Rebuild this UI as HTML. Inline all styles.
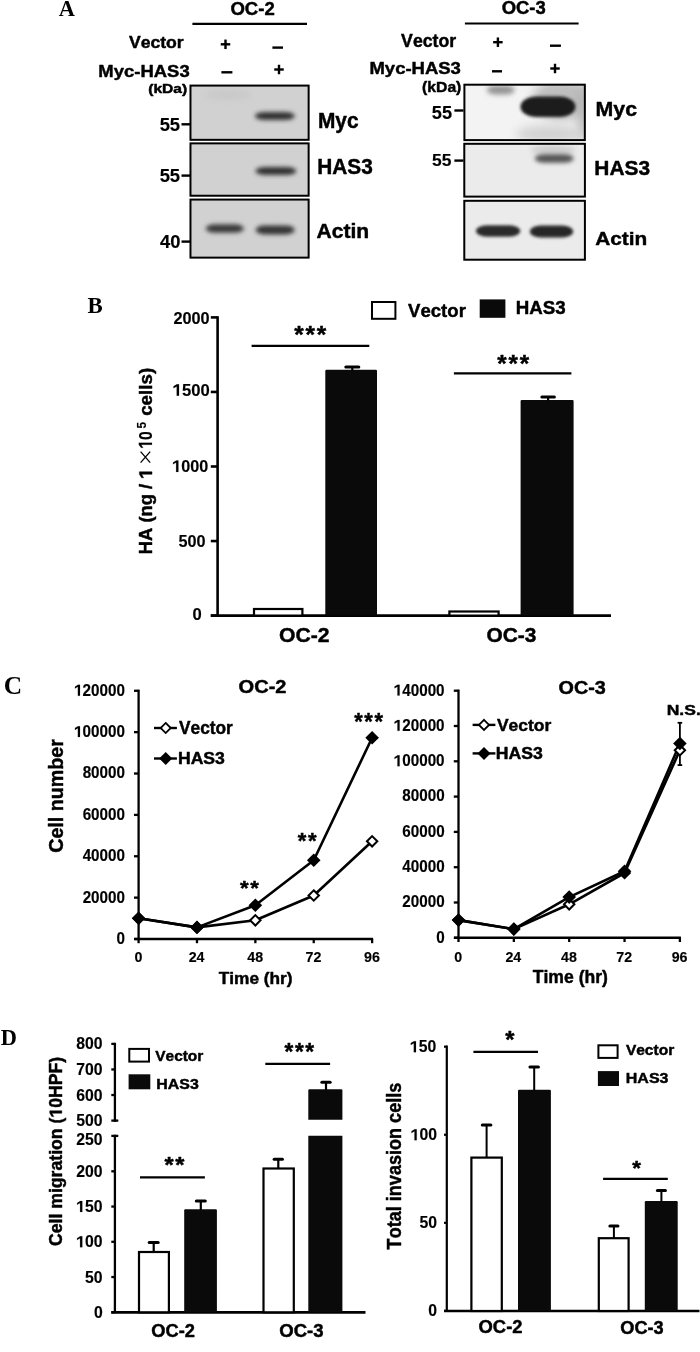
<!DOCTYPE html>
<html><head><meta charset="utf-8"><style>
html,body{margin:0;padding:0;background:#fff;}
body{width:700px;height:1352px;overflow:hidden;}
svg{display:block;filter:grayscale(1);}
text{font-kerning:none;stroke:#000;stroke-width:0.45px;stroke-linejoin:round;}
</style></head><body>
<svg width="700" height="1352" viewBox="0 0 700 1352">
<defs><filter id="b1" x="-30%" y="-100%" width="160%" height="300%"><feGaussianBlur stdDeviation="1.5"/></filter><filter id="b15" x="-30%" y="-100%" width="160%" height="300%"><feGaussianBlur stdDeviation="2"/></filter><filter id="b2" x="-30%" y="-100%" width="160%" height="300%"><feGaussianBlur stdDeviation="2.5"/></filter><filter id="b3" x="-50%" y="-100%" width="200%" height="300%"><feGaussianBlur stdDeviation="5"/></filter><clipPath id="clip1"><rect x="189.50" y="84.60" width="120.10" height="56.20"/></clipPath><clipPath id="clip2"><rect x="189.50" y="142.40" width="120.10" height="54.30"/></clipPath><clipPath id="clip3"><rect x="189.50" y="198.60" width="120.10" height="60.00"/></clipPath><clipPath id="clip4"><rect x="463.40" y="83.70" width="122.40" height="57.40"/></clipPath><clipPath id="clip5"><rect x="463.30" y="142.80" width="122.60" height="54.80"/></clipPath><clipPath id="clip6"><rect x="463.30" y="199.80" width="122.60" height="60.90"/></clipPath></defs>
<rect width="700" height="1352" fill="#fff"/>
<text transform="translate(58.68,15.70) scale(0.9797,1)" font-size="22.87" font-family='"Liberation Serif", serif' font-weight="bold" fill="#000" style="stroke:none">A</text>
<text transform="translate(230.44,14.82) scale(1.0022,1)" font-size="18.50" font-family='"Liberation Sans", sans-serif' font-weight="bold" fill="#000">OC-2</text>
<line x1="192.40" y1="23.90" x2="307.00" y2="23.90" stroke="#000" stroke-width="2.2" stroke-linecap="butt"/>
<text transform="translate(128.88,48.10) scale(1.0282,1)" font-size="17.15" font-family='"Liberation Sans", sans-serif' font-weight="bold" fill="#000">Vector</text>
<text transform="translate(98.37,76.70) scale(1.0742,1)" font-size="17.19" font-family='"Liberation Sans", sans-serif' font-weight="bold" fill="#000">Myc-HAS3</text>
<text transform="translate(148.22,93.01) scale(1.2000,1)" font-size="12.98" font-family='"Liberation Sans", sans-serif' font-weight="bold" fill="#000">(kDa)</text>
<line x1="220.75" y1="44.30" x2="230.25" y2="44.30" stroke="#000" stroke-width="2.4" stroke-linecap="butt"/>
<line x1="225.50" y1="39.55" x2="225.50" y2="49.05" stroke="#000" stroke-width="2.4" stroke-linecap="butt"/>
<line x1="272.40" y1="47.60" x2="283.00" y2="47.60" stroke="#000" stroke-width="2.4" stroke-linecap="butt"/>
<line x1="221.40" y1="72.30" x2="232.40" y2="72.30" stroke="#000" stroke-width="2.4" stroke-linecap="butt"/>
<line x1="274.25" y1="69.50" x2="283.75" y2="69.50" stroke="#000" stroke-width="2.4" stroke-linecap="butt"/>
<line x1="279.00" y1="64.75" x2="279.00" y2="74.25" stroke="#000" stroke-width="2.4" stroke-linecap="butt"/>
<text transform="translate(501.64,14.20) scale(1.0542,1)" font-size="17.48" font-family='"Liberation Sans", sans-serif' font-weight="bold" fill="#000">OC-3</text>
<line x1="464.90" y1="23.50" x2="578.60" y2="23.50" stroke="#000" stroke-width="2.1" stroke-linecap="butt"/>
<text transform="translate(401.08,46.50) scale(0.9982,1)" font-size="17.73" font-family='"Liberation Sans", sans-serif' font-weight="bold" fill="#000">Vector</text>
<text transform="translate(369.46,73.60) scale(1.0948,1)" font-size="16.90" font-family='"Liberation Sans", sans-serif' font-weight="bold" fill="#000">Myc-HAS3</text>
<text transform="translate(422.12,91.64) scale(1.0308,1)" font-size="15.23" font-family='"Liberation Sans", sans-serif' font-weight="bold" fill="#000">(kDa)</text>
<line x1="493.15" y1="42.20" x2="502.65" y2="42.20" stroke="#000" stroke-width="2.4" stroke-linecap="butt"/>
<line x1="497.90" y1="37.45" x2="497.90" y2="46.95" stroke="#000" stroke-width="2.4" stroke-linecap="butt"/>
<line x1="550.00" y1="45.70" x2="560.90" y2="45.70" stroke="#000" stroke-width="2.4" stroke-linecap="butt"/>
<line x1="492.00" y1="71.30" x2="502.00" y2="71.30" stroke="#000" stroke-width="2.4" stroke-linecap="butt"/>
<line x1="550.25" y1="68.50" x2="559.75" y2="68.50" stroke="#000" stroke-width="2.4" stroke-linecap="butt"/>
<line x1="555.00" y1="63.75" x2="555.00" y2="73.25" stroke="#000" stroke-width="2.4" stroke-linecap="butt"/>
<g clip-path="url(#clip1)">
<rect x="189.50" y="84.60" width="120.10" height="56.20" fill="#d1d1d1"/>
<ellipse cx="228.00" cy="95.00" rx="22.00" ry="5.00" fill="#c6c6c6" filter="url(#b2)" opacity="0.7"/>
<rect x="254.90" y="112.00" width="40.00" height="8.00" rx="10.00" ry="4.00" fill="#303030" filter="url(#b15)"/>
<rect x="191.50" y="86.60" width="116.10" height="52.20" fill="none" stroke="#fff" stroke-width="0.8" opacity="0.35"/>
</g>
<rect x="190.50" y="85.60" width="118.10" height="54.20" fill="none" stroke="#000" stroke-width="2.0"/>
<g clip-path="url(#clip2)">
<rect x="189.50" y="142.40" width="120.10" height="54.30" fill="#d1d1d1"/>
<rect x="255.40" y="167.00" width="41.00" height="8.00" rx="10.00" ry="4.00" fill="#323232" filter="url(#b15)"/>
<rect x="191.50" y="144.40" width="116.10" height="50.30" fill="none" stroke="#fff" stroke-width="0.8" opacity="0.35"/>
</g>
<rect x="190.50" y="143.40" width="118.10" height="52.30" fill="none" stroke="#000" stroke-width="2.0"/>
<g clip-path="url(#clip3)">
<rect x="189.50" y="198.60" width="120.10" height="60.00" fill="#d1d1d1"/>
<rect x="205.80" y="224.20" width="38.00" height="8.60" rx="9.00" ry="4.30" fill="#3a3a3a" filter="url(#b15)"/>
<rect x="255.70" y="225.40" width="39.00" height="9.00" rx="9.00" ry="4.50" fill="#343434" filter="url(#b15)"/>
<rect x="191.50" y="200.60" width="116.10" height="56.00" fill="none" stroke="#fff" stroke-width="0.8" opacity="0.35"/>
</g>
<rect x="190.50" y="199.60" width="118.10" height="58.00" fill="none" stroke="#000" stroke-width="2.0"/>
<g clip-path="url(#clip4)">
<rect x="463.40" y="83.70" width="122.40" height="57.40" fill="#f3f3f3"/>
<ellipse cx="562.00" cy="100.00" rx="30.00" ry="20.00" fill="#b8b8b8" filter="url(#b3)" opacity="0.9"/>
<ellipse cx="584.00" cy="112.00" rx="7.00" ry="30.00" fill="#b4b4b4" filter="url(#b3)" opacity="0.9"/>
<ellipse cx="550.00" cy="134.00" rx="34.00" ry="9.00" fill="#cfcfcf" filter="url(#b3)" opacity="0.9"/>
<rect x="486.80" y="85.50" width="28.00" height="9.00" rx="10.00" ry="4.50" fill="#939393" filter="url(#b2)"/>
<rect x="520.50" y="96.55" width="55.00" height="20.50" rx="16.00" ry="10.20" fill="#1c1c1c" filter="url(#b1)"/>
<rect x="465.40" y="85.70" width="118.40" height="53.40" fill="none" stroke="#fff" stroke-width="0.8" opacity="0.35"/>
</g>
<rect x="464.40" y="84.70" width="120.40" height="55.40" fill="none" stroke="#000" stroke-width="2.0"/>
<g clip-path="url(#clip5)">
<rect x="463.30" y="142.80" width="122.60" height="54.80" fill="#ebebeb"/>
<ellipse cx="553.00" cy="150.00" rx="22.00" ry="5.00" fill="#c8c8c8" filter="url(#b2)" opacity="0.8"/>
<rect x="534.70" y="154.30" width="39.00" height="8.40" rx="10.00" ry="4.20" fill="#545454" filter="url(#b15)"/>
<rect x="465.30" y="144.80" width="118.60" height="50.80" fill="none" stroke="#fff" stroke-width="0.8" opacity="0.35"/>
</g>
<rect x="464.30" y="143.80" width="120.60" height="52.80" fill="none" stroke="#000" stroke-width="2.0"/>
<g clip-path="url(#clip6)">
<rect x="463.30" y="199.80" width="122.60" height="60.90" fill="#ebebeb"/>
<rect x="475.85" y="225.30" width="44.50" height="11.40" rx="11.00" ry="5.70" fill="#2c2c2c" filter="url(#b1)"/>
<rect x="529.75" y="225.40" width="43.50" height="12.00" rx="11.00" ry="6.00" fill="#262626" filter="url(#b1)"/>
<rect x="465.30" y="201.80" width="118.60" height="56.90" fill="none" stroke="#fff" stroke-width="0.8" opacity="0.35"/>
</g>
<rect x="464.30" y="200.80" width="120.60" height="58.90" fill="none" stroke="#000" stroke-width="2.0"/>
<text transform="translate(159.63,130.52) scale(1.0196,1)" font-size="18.06" font-family='"Liberation Sans", sans-serif' font-weight="bold" fill="#000" style="stroke-width:0.15px">55</text>
<line x1="181.50" y1="124.30" x2="190.00" y2="124.30" stroke="#000" stroke-width="2.4" stroke-linecap="butt"/>
<text transform="translate(159.63,181.62) scale(1.0196,1)" font-size="18.06" font-family='"Liberation Sans", sans-serif' font-weight="bold" fill="#000" style="stroke-width:0.15px">55</text>
<line x1="181.50" y1="175.60" x2="190.00" y2="175.60" stroke="#000" stroke-width="2.4" stroke-linecap="butt"/>
<text transform="translate(159.92,248.03) scale(1.0321,1)" font-size="17.80" font-family='"Liberation Sans", sans-serif' font-weight="bold" fill="#000" style="stroke-width:0.15px">40</text>
<line x1="181.50" y1="241.60" x2="190.00" y2="241.60" stroke="#000" stroke-width="2.4" stroke-linecap="butt"/>
<text transform="translate(317.90,128.30) scale(0.9770,1)" font-size="21.37" font-family='"Liberation Sans", sans-serif' font-weight="bold" fill="#000">Myc</text>
<text transform="translate(317.21,173.60) scale(0.9693,1)" font-size="21.48" font-family='"Liberation Sans", sans-serif' font-weight="bold" fill="#000">HAS3</text>
<text transform="translate(316.47,237.90) scale(1.0688,1)" font-size="19.73" font-family='"Liberation Sans", sans-serif' font-weight="bold" fill="#000">Actin</text>
<text transform="translate(431.84,119.12) scale(0.9933,1)" font-size="18.34" font-family='"Liberation Sans", sans-serif' font-weight="bold" fill="#000" style="stroke-width:0.15px">55</text>
<line x1="454.40" y1="110.50" x2="463.50" y2="110.50" stroke="#000" stroke-width="2.4" stroke-linecap="butt"/>
<text transform="translate(432.06,166.33) scale(1.0326,1)" font-size="16.91" font-family='"Liberation Sans", sans-serif' font-weight="bold" fill="#000" style="stroke-width:0.15px">55</text>
<line x1="454.40" y1="160.60" x2="463.50" y2="160.60" stroke="#000" stroke-width="2.4" stroke-linecap="butt"/>
<text transform="translate(595.57,115.70) scale(1.0251,1)" font-size="20.79" font-family='"Liberation Sans", sans-serif' font-weight="bold" fill="#000">Myc</text>
<text transform="translate(594.30,175.00) scale(1.0206,1)" font-size="20.48" font-family='"Liberation Sans", sans-serif' font-weight="bold" fill="#000">HAS3</text>
<text transform="translate(595.18,244.60) scale(1.0866,1)" font-size="19.18" font-family='"Liberation Sans", sans-serif' font-weight="bold" fill="#000">Actin</text>
<text transform="translate(87.62,312.83) scale(0.9495,1)" font-size="24.02" font-family='"Liberation Serif", serif' font-weight="bold" fill="#000" style="stroke:none">B</text>
<line x1="217.60" y1="316.20" x2="217.60" y2="615.60" stroke="#000" stroke-width="2.6" stroke-linecap="butt"/>
<line x1="210.80" y1="615.60" x2="217.60" y2="615.60" stroke="#000" stroke-width="2.6" stroke-linecap="butt"/>
<line x1="210.80" y1="541.05" x2="217.60" y2="541.05" stroke="#000" stroke-width="2.6" stroke-linecap="butt"/>
<line x1="210.80" y1="466.50" x2="217.60" y2="466.50" stroke="#000" stroke-width="2.6" stroke-linecap="butt"/>
<line x1="210.80" y1="391.95" x2="217.60" y2="391.95" stroke="#000" stroke-width="2.6" stroke-linecap="butt"/>
<line x1="210.80" y1="317.40" x2="217.60" y2="317.40" stroke="#000" stroke-width="2.6" stroke-linecap="butt"/>
<text transform="translate(173.44,323.74) scale(1.0027,1)" font-size="16.24" font-family='"Liberation Sans", sans-serif' font-weight="bold" fill="#000" style="stroke-width:0.15px">2000</text>
<g transform="translate(172.65,395.74) scale(1.0073,1)"><text font-size="16.53" font-family='"Liberation Sans", sans-serif' font-weight="bold" fill="#000" style="stroke-width:0.15px"> 500</text><path d="M4.034,0.000 L4.034,-9.279 L0.888,-7.544 L0.888,-9.400 L4.156,-11.369 L6.334,-11.369 L6.334,0.000 Z" fill="#000" stroke="#000" stroke-width="0.15" stroke-linejoin="round"/></g>
<g transform="translate(172.18,471.94) scale(0.9733,1)"><text font-size="16.67" font-family='"Liberation Sans", sans-serif' font-weight="bold" fill="#000" style="stroke-width:0.15px"> 000</text><path d="M4.069,0.000 L4.069,-9.359 L0.895,-7.609 L0.895,-9.481 L4.191,-11.466 L6.388,-11.466 L6.388,0.000 Z" fill="#000" stroke="#000" stroke-width="0.15" stroke-linejoin="round"/></g>
<text transform="translate(178.40,546.93) scale(0.9414,1)" font-size="17.23" font-family='"Liberation Sans", sans-serif' font-weight="bold" fill="#000" style="stroke-width:0.15px">500</text>
<text transform="translate(192.44,619.74) scale(0.9883,1)" font-size="16.81" font-family='"Liberation Sans", sans-serif' font-weight="bold" fill="#000" style="stroke-width:0.15px">0</text>
<line x1="210.80" y1="615.60" x2="611.00" y2="615.60" stroke="#000" stroke-width="2.6" stroke-linecap="butt"/>
<rect x="254.00" y="609.00" width="48.40" height="6.60" fill="#fff" stroke="#000" stroke-width="2.2"/>
<path d="M325.30,615.60 V371.00 Q325.30,369.80 326.50,369.80 H375.80 Q377.00,369.80 377.00,371.00 V615.60 Z" fill="#0a0a0c"/>
<line x1="352.30" y1="367.00" x2="352.30" y2="370.50" stroke="#000" stroke-width="2.2" stroke-linecap="butt"/>
<line x1="345.80" y1="367.00" x2="358.80" y2="367.00" stroke="#000" stroke-width="3.0" stroke-linecap="round"/>
<rect x="449.40" y="611.50" width="49.20" height="4.10" fill="#fff" stroke="#000" stroke-width="2.2"/>
<path d="M520.60,615.60 V401.10 Q520.60,399.90 521.80,399.90 H572.40 Q573.60,399.90 573.60,401.10 V615.60 Z" fill="#0a0a0c"/>
<line x1="548.10" y1="397.10" x2="548.10" y2="400.50" stroke="#000" stroke-width="2.2" stroke-linecap="butt"/>
<line x1="541.85" y1="397.10" x2="554.35" y2="397.10" stroke="#000" stroke-width="3.0" stroke-linecap="round"/>
<line x1="251.60" y1="345.80" x2="369.30" y2="345.80" stroke="#000" stroke-width="2.2" stroke-linecap="butt"/>
<line x1="453.90" y1="373.40" x2="571.40" y2="373.40" stroke="#000" stroke-width="2.2" stroke-linecap="butt"/>
<text transform="translate(294.33,343.34) scale(1.0068,1)" font-size="24.19" font-family='"Liberation Sans", sans-serif' font-weight="bold" fill="#000">*</text><text transform="translate(305.59,343.34) scale(1.0068,1)" font-size="24.19" font-family='"Liberation Sans", sans-serif' font-weight="bold" fill="#000">*</text><text transform="translate(316.85,343.34) scale(1.0068,1)" font-size="24.19" font-family='"Liberation Sans", sans-serif' font-weight="bold" fill="#000">*</text>
<text transform="translate(497.33,371.90) scale(1.0437,1)" font-size="23.11" font-family='"Liberation Sans", sans-serif' font-weight="bold" fill="#000">*</text><text transform="translate(508.48,371.90) scale(1.0437,1)" font-size="23.11" font-family='"Liberation Sans", sans-serif' font-weight="bold" fill="#000">*</text><text transform="translate(519.64,371.90) scale(1.0437,1)" font-size="23.11" font-family='"Liberation Sans", sans-serif' font-weight="bold" fill="#000">*</text>
<text transform="translate(279.03,642.40) scale(1.0183,1)" font-size="20.76" font-family='"Liberation Sans", sans-serif' font-weight="bold" fill="#000">OC-2</text>
<text transform="translate(486.54,642.37) scale(1.0152,1)" font-size="20.58" font-family='"Liberation Sans", sans-serif' font-weight="bold" fill="#000">OC-3</text>
<rect x="372.00" y="302.00" width="23.40" height="16.80" fill="#fff" stroke="#000" stroke-width="2"/>
<text transform="translate(408.07,317.00) scale(0.9906,1)" font-size="18.75" font-family='"Liberation Sans", sans-serif' font-weight="bold" fill="#000">Vector</text>
<rect x="479.70" y="299.40" width="25.70" height="18.40" fill="#0a0a0c"/>
<text transform="translate(515.85,314.20) scale(1.0372,1)" font-size="18.05" font-family='"Liberation Sans", sans-serif' font-weight="bold" fill="#000">HAS3</text>
<g transform="translate(152.00,554.13) rotate(-90) scale(0.9986,1)"><text font-size="18.35" font-family='"Liberation Sans", sans-serif' font-weight="bold" fill="#000" style="stroke-width:0.45px">HA (ng /  </text><path d="M79.925,0.000 L79.925,-10.307 L76.430,-8.380 L76.430,-10.441 L80.060,-12.628 L82.480,-12.628 L82.480,0.000 Z" fill="#000" stroke="#000" stroke-width="0.45" stroke-linejoin="round"/></g>
<path d="M140.6,451.6 L150.2,462.6 M150.2,451.6 L140.6,462.6" stroke="#000" stroke-width="1.3" fill="none"/>
<g transform="translate(152.00,448.69) rotate(-90) scale(0.8217,1)"><text font-size="19.19" font-family='"Liberation Sans", sans-serif' font-weight="bold" fill="#000" style="stroke-width:0.15px"> 0</text><path d="M4.685,0.000 L4.685,-10.776 L1.031,-8.762 L1.031,-10.917 L4.826,-13.203 L7.356,-13.203 L7.356,0.000 Z" fill="#000" stroke="#000" stroke-width="0.15" stroke-linejoin="round"/></g>
<text transform="translate(145.90,428.46) rotate(-90) scale(0.9598,1)" font-size="12.35" font-family='"Liberation Sans", sans-serif' font-weight="bold" fill="#000" style="stroke-width:0.15px">5</text>
<text transform="translate(152.06,415.83) rotate(-90) scale(0.9900,1)" font-size="18.99" font-family='"Liberation Sans", sans-serif' font-weight="bold" fill="#000">cells)</text>
<text transform="translate(3.86,693.76) scale(1.0428,1)" font-size="24.41" font-family='"Liberation Serif", serif' font-weight="bold" fill="#000" style="stroke:none">C</text>
<line x1="138.60" y1="689.68" x2="138.60" y2="939.00" stroke="#000" stroke-width="2.3" stroke-linecap="butt"/>
<line x1="134.00" y1="939.00" x2="138.60" y2="939.00" stroke="#000" stroke-width="2.3" stroke-linecap="butt"/>
<text transform="translate(116.55,943.94) scale(0.9650,1)" font-size="15.80" font-family='"Liberation Sans", sans-serif' font-weight="bold" fill="#000" style="stroke-width:0.15px">0</text>
<line x1="134.00" y1="897.63" x2="138.60" y2="897.63" stroke="#000" stroke-width="2.3" stroke-linecap="butt"/>
<text transform="translate(82.63,902.57) scale(0.9650,1)" font-size="15.80" font-family='"Liberation Sans", sans-serif' font-weight="bold" fill="#000" style="stroke-width:0.15px">20000</text>
<line x1="134.00" y1="856.26" x2="138.60" y2="856.26" stroke="#000" stroke-width="2.3" stroke-linecap="butt"/>
<text transform="translate(82.63,861.20) scale(0.9650,1)" font-size="15.80" font-family='"Liberation Sans", sans-serif' font-weight="bold" fill="#000" style="stroke-width:0.15px">40000</text>
<line x1="134.00" y1="814.89" x2="138.60" y2="814.89" stroke="#000" stroke-width="2.3" stroke-linecap="butt"/>
<text transform="translate(82.63,819.83) scale(0.9650,1)" font-size="15.80" font-family='"Liberation Sans", sans-serif' font-weight="bold" fill="#000" style="stroke-width:0.15px">60000</text>
<line x1="134.00" y1="773.52" x2="138.60" y2="773.52" stroke="#000" stroke-width="2.3" stroke-linecap="butt"/>
<text transform="translate(82.63,778.46) scale(0.9650,1)" font-size="15.80" font-family='"Liberation Sans", sans-serif' font-weight="bold" fill="#000" style="stroke-width:0.15px">80000</text>
<line x1="134.00" y1="732.15" x2="138.60" y2="732.15" stroke="#000" stroke-width="2.3" stroke-linecap="butt"/>
<g transform="translate(74.15,737.09) scale(0.9650,1)"><text font-size="15.80" font-family='"Liberation Sans", sans-serif' font-weight="bold" fill="#000" style="stroke-width:0.15px"> 00000</text><path d="M3.857,0.000 L3.857,-8.872 L0.849,-7.213 L0.849,-8.988 L3.973,-10.870 L6.056,-10.870 L6.056,0.000 Z" fill="#000" stroke="#000" stroke-width="0.15" stroke-linejoin="round"/></g>
<line x1="134.00" y1="690.78" x2="138.60" y2="690.78" stroke="#000" stroke-width="2.3" stroke-linecap="butt"/>
<g transform="translate(74.15,695.72) scale(0.9650,1)"><text font-size="15.80" font-family='"Liberation Sans", sans-serif' font-weight="bold" fill="#000" style="stroke-width:0.15px"> 20000</text><path d="M3.857,0.000 L3.857,-8.872 L0.849,-7.213 L0.849,-8.988 L3.973,-10.870 L6.056,-10.870 L6.056,0.000 Z" fill="#000" stroke="#000" stroke-width="0.15" stroke-linejoin="round"/></g>
<line x1="134.30" y1="939.00" x2="373.12" y2="939.00" stroke="#000" stroke-width="2.6" stroke-linecap="butt"/>
<line x1="138.60" y1="939.00" x2="138.60" y2="943.20" stroke="#000" stroke-width="2.3" stroke-linecap="butt"/>
<text transform="translate(134.45,961.80) scale(0.9500,1)" font-size="15.00" font-family='"Liberation Sans", sans-serif' font-weight="bold" fill="#000" style="stroke-width:0.15px">0</text>
<line x1="196.98" y1="939.00" x2="196.98" y2="943.20" stroke="#000" stroke-width="2.3" stroke-linecap="butt"/>
<text transform="translate(188.65,961.80) scale(0.9500,1)" font-size="15.00" font-family='"Liberation Sans", sans-serif' font-weight="bold" fill="#000" style="stroke-width:0.15px">24</text>
<line x1="255.36" y1="939.00" x2="255.36" y2="943.20" stroke="#000" stroke-width="2.3" stroke-linecap="butt"/>
<text transform="translate(247.35,961.80) scale(0.9500,1)" font-size="15.00" font-family='"Liberation Sans", sans-serif' font-weight="bold" fill="#000" style="stroke-width:0.15px">48</text>
<line x1="313.74" y1="939.00" x2="313.74" y2="943.20" stroke="#000" stroke-width="2.3" stroke-linecap="butt"/>
<text transform="translate(305.59,961.80) scale(0.9500,1)" font-size="15.00" font-family='"Liberation Sans", sans-serif' font-weight="bold" fill="#000" style="stroke-width:0.15px">72</text>
<line x1="372.12" y1="939.00" x2="372.12" y2="943.20" stroke="#000" stroke-width="2.3" stroke-linecap="butt"/>
<text transform="translate(364.01,961.80) scale(0.9500,1)" font-size="15.00" font-family='"Liberation Sans", sans-serif' font-weight="bold" fill="#000" style="stroke-width:0.15px">96</text>
<text transform="translate(218.71,984.30) scale(1.0419,1)" font-size="16.57" font-family='"Liberation Sans", sans-serif' font-weight="bold" fill="#000">Time (hr)</text>
<text transform="translate(63.11,852.81) rotate(-90) scale(0.9906,1)" font-size="19.88" font-family='"Liberation Sans", sans-serif' font-weight="bold" fill="#000">Cell number</text>
<text transform="translate(238.58,692.72) scale(1.1010,1)" font-size="18.22" font-family='"Liberation Sans", sans-serif' font-weight="bold" fill="#000">OC-2</text>
<path d="M138.60,918.30 L196.98,927.40 L255.36,920.30 L313.74,895.50 L372.12,841.30" fill="none" stroke="#000" stroke-width="2.6" stroke-linejoin="round"/>
<path d="M138.60,918.30 L196.98,927.40 L255.36,905.20 L313.74,860.30 L372.12,737.70" fill="none" stroke="#000" stroke-width="2.6" stroke-linejoin="round"/>
<path d="M138.60,913.10 L143.80,918.30 L138.60,923.50 L133.40,918.30 Z" fill="#fff" stroke="#000" stroke-width="2.0" stroke-linejoin="miter"/>
<path d="M196.98,922.20 L202.18,927.40 L196.98,932.60 L191.78,927.40 Z" fill="#fff" stroke="#000" stroke-width="2.0" stroke-linejoin="miter"/>
<path d="M255.36,915.10 L260.56,920.30 L255.36,925.50 L250.16,920.30 Z" fill="#fff" stroke="#000" stroke-width="2.0" stroke-linejoin="miter"/>
<path d="M313.74,890.30 L318.94,895.50 L313.74,900.70 L308.54,895.50 Z" fill="#fff" stroke="#000" stroke-width="2.0" stroke-linejoin="miter"/>
<path d="M372.12,836.10 L377.32,841.30 L372.12,846.50 L366.92,841.30 Z" fill="#fff" stroke="#000" stroke-width="2.0" stroke-linejoin="miter"/>
<path d="M138.60,911.50 L145.40,918.30 L138.60,925.10 L131.80,918.30 Z" fill="#000"/>
<path d="M196.98,920.60 L203.78,927.40 L196.98,934.20 L190.18,927.40 Z" fill="#000"/>
<path d="M255.36,898.40 L262.16,905.20 L255.36,912.00 L248.56,905.20 Z" fill="#000"/>
<path d="M313.74,853.50 L320.54,860.30 L313.74,867.10 L306.94,860.30 Z" fill="#000"/>
<path d="M372.12,730.90 L378.92,737.70 L372.12,744.50 L365.32,737.70 Z" fill="#000"/>
<line x1="154.00" y1="728.00" x2="176.90" y2="728.00" stroke="#000" stroke-width="2.4" stroke-linecap="butt"/>
<path d="M165.70,722.96 L170.74,728.00 L165.70,733.04 L160.66,728.00 Z" fill="#fff" stroke="#000" stroke-width="1.8" stroke-linejoin="miter"/>
<text transform="translate(178.98,733.70) scale(0.9925,1)" font-size="17.44" font-family='"Liberation Sans", sans-serif' font-weight="bold" fill="#000">Vector</text>
<line x1="154.00" y1="758.50" x2="176.90" y2="758.50" stroke="#000" stroke-width="2.4" stroke-linecap="butt"/>
<path d="M165.70,752.00 L172.20,758.50 L165.70,765.00 L159.20,758.50 Z" fill="#000"/>
<text transform="translate(177.92,764.00) scale(1.1087,1)" font-size="15.90" font-family='"Liberation Sans", sans-serif' font-weight="bold" fill="#000">HAS3</text>
<text transform="translate(239.94,894.62) scale(1.0581,1)" font-size="20.96" font-family='"Liberation Sans", sans-serif' font-weight="bold" fill="#000">*</text><text transform="translate(250.19,894.62) scale(1.0581,1)" font-size="20.96" font-family='"Liberation Sans", sans-serif' font-weight="bold" fill="#000">*</text>
<text transform="translate(297.84,848.43) scale(0.9773,1)" font-size="22.58" font-family='"Liberation Sans", sans-serif' font-weight="bold" fill="#000">*</text><text transform="translate(308.04,848.43) scale(0.9773,1)" font-size="22.58" font-family='"Liberation Sans", sans-serif' font-weight="bold" fill="#000">*</text>
<text transform="translate(354.24,730.20) scale(0.9446,1)" font-size="23.11" font-family='"Liberation Sans", sans-serif' font-weight="bold" fill="#000">*</text><text transform="translate(364.33,730.20) scale(0.9446,1)" font-size="23.11" font-family='"Liberation Sans", sans-serif' font-weight="bold" fill="#000">*</text><text transform="translate(374.42,730.20) scale(0.9446,1)" font-size="23.11" font-family='"Liberation Sans", sans-serif' font-weight="bold" fill="#000">*</text>
<line x1="458.50" y1="689.60" x2="458.50" y2="937.80" stroke="#000" stroke-width="2.3" stroke-linecap="butt"/>
<line x1="453.80" y1="937.80" x2="458.50" y2="937.80" stroke="#000" stroke-width="2.3" stroke-linecap="butt"/>
<text transform="translate(436.15,942.64) scale(0.9650,1)" font-size="15.80" font-family='"Liberation Sans", sans-serif' font-weight="bold" fill="#000" style="stroke-width:0.15px">0</text>
<line x1="453.80" y1="902.50" x2="458.50" y2="902.50" stroke="#000" stroke-width="2.3" stroke-linecap="butt"/>
<text transform="translate(402.23,907.34) scale(0.9650,1)" font-size="15.80" font-family='"Liberation Sans", sans-serif' font-weight="bold" fill="#000" style="stroke-width:0.15px">20000</text>
<line x1="453.80" y1="867.20" x2="458.50" y2="867.20" stroke="#000" stroke-width="2.3" stroke-linecap="butt"/>
<text transform="translate(402.23,872.04) scale(0.9650,1)" font-size="15.80" font-family='"Liberation Sans", sans-serif' font-weight="bold" fill="#000" style="stroke-width:0.15px">40000</text>
<line x1="453.80" y1="831.90" x2="458.50" y2="831.90" stroke="#000" stroke-width="2.3" stroke-linecap="butt"/>
<text transform="translate(402.23,836.74) scale(0.9650,1)" font-size="15.80" font-family='"Liberation Sans", sans-serif' font-weight="bold" fill="#000" style="stroke-width:0.15px">60000</text>
<line x1="453.80" y1="796.60" x2="458.50" y2="796.60" stroke="#000" stroke-width="2.3" stroke-linecap="butt"/>
<text transform="translate(402.23,801.44) scale(0.9650,1)" font-size="15.80" font-family='"Liberation Sans", sans-serif' font-weight="bold" fill="#000" style="stroke-width:0.15px">80000</text>
<line x1="453.80" y1="761.30" x2="458.50" y2="761.30" stroke="#000" stroke-width="2.3" stroke-linecap="butt"/>
<g transform="translate(393.75,766.14) scale(0.9650,1)"><text font-size="15.80" font-family='"Liberation Sans", sans-serif' font-weight="bold" fill="#000" style="stroke-width:0.15px"> 00000</text><path d="M3.857,0.000 L3.857,-8.872 L0.849,-7.213 L0.849,-8.988 L3.973,-10.870 L6.056,-10.870 L6.056,0.000 Z" fill="#000" stroke="#000" stroke-width="0.15" stroke-linejoin="round"/></g>
<line x1="453.80" y1="726.00" x2="458.50" y2="726.00" stroke="#000" stroke-width="2.3" stroke-linecap="butt"/>
<g transform="translate(393.75,730.84) scale(0.9650,1)"><text font-size="15.80" font-family='"Liberation Sans", sans-serif' font-weight="bold" fill="#000" style="stroke-width:0.15px"> 20000</text><path d="M3.857,0.000 L3.857,-8.872 L0.849,-7.213 L0.849,-8.988 L3.973,-10.870 L6.056,-10.870 L6.056,0.000 Z" fill="#000" stroke="#000" stroke-width="0.15" stroke-linejoin="round"/></g>
<line x1="453.80" y1="690.70" x2="458.50" y2="690.70" stroke="#000" stroke-width="2.3" stroke-linecap="butt"/>
<g transform="translate(393.75,695.54) scale(0.9650,1)"><text font-size="15.80" font-family='"Liberation Sans", sans-serif' font-weight="bold" fill="#000" style="stroke-width:0.15px"> 40000</text><path d="M3.857,0.000 L3.857,-8.872 L0.849,-7.213 L0.849,-8.988 L3.973,-10.870 L6.056,-10.870 L6.056,0.000 Z" fill="#000" stroke="#000" stroke-width="0.15" stroke-linejoin="round"/></g>
<line x1="454.00" y1="937.80" x2="680.90" y2="937.80" stroke="#000" stroke-width="2.6" stroke-linecap="butt"/>
<line x1="458.50" y1="937.80" x2="458.50" y2="942.00" stroke="#000" stroke-width="2.3" stroke-linecap="butt"/>
<text transform="translate(454.25,961.50) scale(0.9500,1)" font-size="15.00" font-family='"Liberation Sans", sans-serif' font-weight="bold" fill="#000" style="stroke-width:0.15px">0</text>
<line x1="513.85" y1="937.80" x2="513.85" y2="942.00" stroke="#000" stroke-width="2.3" stroke-linecap="butt"/>
<text transform="translate(505.42,961.50) scale(0.9500,1)" font-size="15.00" font-family='"Liberation Sans", sans-serif' font-weight="bold" fill="#000" style="stroke-width:0.15px">24</text>
<line x1="569.20" y1="937.80" x2="569.20" y2="942.00" stroke="#000" stroke-width="2.3" stroke-linecap="butt"/>
<text transform="translate(561.09,961.50) scale(0.9500,1)" font-size="15.00" font-family='"Liberation Sans", sans-serif' font-weight="bold" fill="#000" style="stroke-width:0.15px">48</text>
<line x1="624.55" y1="937.80" x2="624.55" y2="942.00" stroke="#000" stroke-width="2.3" stroke-linecap="butt"/>
<text transform="translate(616.30,961.50) scale(0.9500,1)" font-size="15.00" font-family='"Liberation Sans", sans-serif' font-weight="bold" fill="#000" style="stroke-width:0.15px">72</text>
<line x1="679.90" y1="937.80" x2="679.90" y2="942.00" stroke="#000" stroke-width="2.3" stroke-linecap="butt"/>
<text transform="translate(671.69,961.50) scale(0.9500,1)" font-size="15.00" font-family='"Liberation Sans", sans-serif' font-weight="bold" fill="#000" style="stroke-width:0.15px">96</text>
<text transform="translate(532.70,983.40) scale(0.9685,1)" font-size="18.17" font-family='"Liberation Sans", sans-serif' font-weight="bold" fill="#000">Time (hr)</text>
<text transform="translate(558.59,693.80) scale(1.1130,1)" font-size="17.76" font-family='"Liberation Sans", sans-serif' font-weight="bold" fill="#000">OC-3</text>
<line x1="679.90" y1="722.30" x2="679.90" y2="765.60" stroke="#000" stroke-width="1.8" stroke-linecap="butt"/>
<line x1="677.60" y1="722.80" x2="682.20" y2="722.80" stroke="#000" stroke-width="1.8" stroke-linecap="butt"/>
<line x1="677.60" y1="765.10" x2="682.20" y2="765.10" stroke="#000" stroke-width="1.8" stroke-linecap="butt"/>
<path d="M458.50,920.10 L513.85,929.10 L569.20,904.30 L624.55,873.00 L679.90,750.20" fill="none" stroke="#000" stroke-width="2.6" stroke-linejoin="round"/>
<path d="M458.50,920.10 L513.85,929.10 L569.20,897.10 L624.55,871.20 L679.90,743.50" fill="none" stroke="#000" stroke-width="2.6" stroke-linejoin="round"/>
<path d="M458.50,914.90 L463.70,920.10 L458.50,925.30 L453.30,920.10 Z" fill="#fff" stroke="#000" stroke-width="2.0" stroke-linejoin="miter"/>
<path d="M513.85,923.90 L519.05,929.10 L513.85,934.30 L508.65,929.10 Z" fill="#fff" stroke="#000" stroke-width="2.0" stroke-linejoin="miter"/>
<path d="M569.20,899.10 L574.40,904.30 L569.20,909.50 L564.00,904.30 Z" fill="#fff" stroke="#000" stroke-width="2.0" stroke-linejoin="miter"/>
<path d="M624.55,867.80 L629.75,873.00 L624.55,878.20 L619.35,873.00 Z" fill="#fff" stroke="#000" stroke-width="2.0" stroke-linejoin="miter"/>
<path d="M679.90,745.00 L685.10,750.20 L679.90,755.40 L674.70,750.20 Z" fill="#fff" stroke="#000" stroke-width="2.0" stroke-linejoin="miter"/>
<path d="M458.50,913.30 L465.30,920.10 L458.50,926.90 L451.70,920.10 Z" fill="#000"/>
<path d="M513.85,922.30 L520.65,929.10 L513.85,935.90 L507.05,929.10 Z" fill="#000"/>
<path d="M569.20,890.30 L576.00,897.10 L569.20,903.90 L562.40,897.10 Z" fill="#000"/>
<path d="M624.55,864.40 L631.35,871.20 L624.55,878.00 L617.75,871.20 Z" fill="#000"/>
<path d="M679.90,736.70 L686.70,743.50 L679.90,750.30 L673.10,743.50 Z" fill="#000"/>
<line x1="472.60" y1="724.90" x2="495.40" y2="724.90" stroke="#000" stroke-width="2.4" stroke-linecap="butt"/>
<path d="M484.00,719.86 L489.04,724.90 L484.00,729.94 L478.96,724.90 Z" fill="#fff" stroke="#000" stroke-width="1.8" stroke-linejoin="miter"/>
<text transform="translate(496.88,731.30) scale(1.0454,1)" font-size="16.72" font-family='"Liberation Sans", sans-serif' font-weight="bold" fill="#000">Vector</text>
<line x1="472.60" y1="753.40" x2="495.40" y2="753.40" stroke="#000" stroke-width="2.4" stroke-linecap="butt"/>
<path d="M484.00,746.90 L490.50,753.40 L484.00,759.90 L477.50,753.40 Z" fill="#000"/>
<text transform="translate(495.82,759.10) scale(1.1316,1)" font-size="15.61" font-family='"Liberation Sans", sans-serif' font-weight="bold" fill="#000">HAS3</text>
<text transform="translate(666.73,715.45) scale(1.1704,1)" font-size="14.97" font-family='"Liberation Sans", sans-serif' font-weight="bold" fill="#000">N.S.</text>
<text transform="translate(0.81,1045.46) scale(1.0015,1)" font-size="22.38" font-family='"Liberation Serif", serif' font-weight="bold" fill="#000" style="stroke:none">D</text>
<line x1="114.90" y1="1042.79" x2="114.90" y2="1121.80" stroke="#000" stroke-width="2.3" stroke-linecap="butt"/>
<line x1="111.30" y1="1043.89" x2="114.90" y2="1043.89" stroke="#000" stroke-width="2.3" stroke-linecap="butt"/>
<text transform="translate(76.25,1049.40) scale(0.9850,1)" font-size="16.00" font-family='"Liberation Sans", sans-serif' font-weight="bold" fill="#000" style="stroke-width:0.15px">800</text>
<line x1="111.30" y1="1069.46" x2="114.90" y2="1069.46" stroke="#000" stroke-width="2.3" stroke-linecap="butt"/>
<text transform="translate(76.25,1074.97) scale(0.9850,1)" font-size="16.00" font-family='"Liberation Sans", sans-serif' font-weight="bold" fill="#000" style="stroke-width:0.15px">700</text>
<line x1="111.30" y1="1095.03" x2="114.90" y2="1095.03" stroke="#000" stroke-width="2.3" stroke-linecap="butt"/>
<text transform="translate(76.25,1100.54) scale(0.9850,1)" font-size="16.00" font-family='"Liberation Sans", sans-serif' font-weight="bold" fill="#000" style="stroke-width:0.15px">600</text>
<line x1="111.30" y1="1120.60" x2="114.90" y2="1120.60" stroke="#000" stroke-width="2.3" stroke-linecap="butt"/>
<text transform="translate(76.25,1126.11) scale(0.9850,1)" font-size="16.00" font-family='"Liberation Sans", sans-serif' font-weight="bold" fill="#000" style="stroke-width:0.15px">500</text>
<line x1="114.90" y1="1120.60" x2="118.30" y2="1120.60" stroke="#000" stroke-width="2.3" stroke-linecap="butt"/>
<line x1="114.90" y1="1134.70" x2="114.90" y2="1312.30" stroke="#000" stroke-width="2.3" stroke-linecap="butt"/>
<line x1="111.30" y1="1135.90" x2="114.90" y2="1135.90" stroke="#000" stroke-width="2.3" stroke-linecap="butt"/>
<text transform="translate(76.25,1145.01) scale(0.9850,1)" font-size="16.00" font-family='"Liberation Sans", sans-serif' font-weight="bold" fill="#000" style="stroke-width:0.15px">250</text>
<line x1="111.30" y1="1171.30" x2="114.90" y2="1171.30" stroke="#000" stroke-width="2.3" stroke-linecap="butt"/>
<text transform="translate(76.25,1176.81) scale(0.9850,1)" font-size="16.00" font-family='"Liberation Sans", sans-serif' font-weight="bold" fill="#000" style="stroke-width:0.15px">200</text>
<line x1="111.30" y1="1206.55" x2="114.90" y2="1206.55" stroke="#000" stroke-width="2.3" stroke-linecap="butt"/>
<g transform="translate(76.25,1212.06) scale(0.9850,1)"><text font-size="16.00" font-family='"Liberation Sans", sans-serif' font-weight="bold" fill="#000" style="stroke-width:0.15px"> 50</text><path d="M3.906,0.000 L3.906,-8.984 L0.859,-7.305 L0.859,-9.102 L4.023,-11.008 L6.133,-11.008 L6.133,0.000 Z" fill="#000" stroke="#000" stroke-width="0.15" stroke-linejoin="round"/></g>
<line x1="111.30" y1="1241.80" x2="114.90" y2="1241.80" stroke="#000" stroke-width="2.3" stroke-linecap="butt"/>
<g transform="translate(76.25,1247.31) scale(0.9850,1)"><text font-size="16.00" font-family='"Liberation Sans", sans-serif' font-weight="bold" fill="#000" style="stroke-width:0.15px"> 00</text><path d="M3.906,0.000 L3.906,-8.984 L0.859,-7.305 L0.859,-9.102 L4.023,-11.008 L6.133,-11.008 L6.133,0.000 Z" fill="#000" stroke="#000" stroke-width="0.15" stroke-linejoin="round"/></g>
<line x1="111.30" y1="1277.05" x2="114.90" y2="1277.05" stroke="#000" stroke-width="2.3" stroke-linecap="butt"/>
<text transform="translate(85.02,1282.56) scale(0.9850,1)" font-size="16.00" font-family='"Liberation Sans", sans-serif' font-weight="bold" fill="#000" style="stroke-width:0.15px">50</text>
<line x1="111.30" y1="1312.30" x2="114.90" y2="1312.30" stroke="#000" stroke-width="2.3" stroke-linecap="butt"/>
<text transform="translate(94.08,1317.81) scale(0.9850,1)" font-size="16.00" font-family='"Liberation Sans", sans-serif' font-weight="bold" fill="#000" style="stroke-width:0.15px">0</text>
<line x1="114.90" y1="1135.90" x2="118.30" y2="1135.90" stroke="#000" stroke-width="2.3" stroke-linecap="butt"/>
<line x1="111.30" y1="1312.30" x2="365.50" y2="1312.30" stroke="#000" stroke-width="2.7" stroke-linecap="butt"/>
<rect x="139.00" y="1252.00" width="29.90" height="60.30" fill="#fff" stroke="#000" stroke-width="2.2"/>
<line x1="153.70" y1="1242.40" x2="153.70" y2="1251.50" stroke="#000" stroke-width="2.2" stroke-linecap="butt"/>
<line x1="149.20" y1="1242.40" x2="158.20" y2="1242.40" stroke="#000" stroke-width="3.0" stroke-linecap="round"/>
<path d="M184.20,1312.30 V1210.50 Q184.20,1209.30 185.40,1209.30 H215.70 Q216.90,1209.30 216.90,1210.50 V1312.30 Z" fill="#0a0a0c"/>
<line x1="200.80" y1="1201.00" x2="200.80" y2="1210.00" stroke="#000" stroke-width="2.2" stroke-linecap="butt"/>
<line x1="196.30" y1="1201.00" x2="205.30" y2="1201.00" stroke="#000" stroke-width="3.0" stroke-linecap="round"/>
<rect x="263.50" y="1168.50" width="30.30" height="143.80" fill="#fff" stroke="#000" stroke-width="2.2"/>
<line x1="278.30" y1="1159.30" x2="278.30" y2="1168.00" stroke="#000" stroke-width="2.2" stroke-linecap="butt"/>
<line x1="274.15" y1="1159.30" x2="282.45" y2="1159.30" stroke="#000" stroke-width="3.0" stroke-linecap="round"/>
<path d="M308.30,1312.30 V1136.00 Q308.30,1135.70 308.60,1135.70 H342.10 Q342.40,1135.70 342.40,1136.00 V1312.30 Z" fill="#0a0a0c"/>
<path d="M308.30,1119.70 V1090.50 Q308.30,1089.30 309.50,1089.30 H341.20 Q342.40,1089.30 342.40,1090.50 V1119.70 Z" fill="#0a0a0c"/>
<line x1="326.00" y1="1082.20" x2="326.00" y2="1090.00" stroke="#000" stroke-width="2.2" stroke-linecap="butt"/>
<line x1="321.85" y1="1082.20" x2="330.15" y2="1082.20" stroke="#000" stroke-width="3.0" stroke-linecap="round"/>
<text transform="translate(164.43,1172.46) scale(1.0654,1)" font-size="22.04" font-family='"Liberation Sans", sans-serif' font-weight="bold" fill="#000">*</text><text transform="translate(175.29,1172.46) scale(1.0654,1)" font-size="22.04" font-family='"Liberation Sans", sans-serif' font-weight="bold" fill="#000">*</text>
<line x1="140.00" y1="1177.40" x2="204.90" y2="1177.40" stroke="#000" stroke-width="2.2" stroke-linecap="butt"/>
<text transform="translate(284.43,1059.79) scale(0.9664,1)" font-size="23.38" font-family='"Liberation Sans", sans-serif' font-weight="bold" fill="#000">*</text><text transform="translate(294.88,1059.79) scale(0.9664,1)" font-size="23.38" font-family='"Liberation Sans", sans-serif' font-weight="bold" fill="#000">*</text><text transform="translate(305.33,1059.79) scale(0.9664,1)" font-size="23.38" font-family='"Liberation Sans", sans-serif' font-weight="bold" fill="#000">*</text>
<line x1="265.30" y1="1063.80" x2="330.10" y2="1063.80" stroke="#000" stroke-width="2.2" stroke-linecap="butt"/>
<rect x="129.30" y="1048.90" width="19.70" height="12.70" fill="#fff" stroke="#000" stroke-width="2"/>
<text transform="translate(155.29,1061.10) scale(1.0211,1)" font-size="15.12" font-family='"Liberation Sans", sans-serif' font-weight="bold" fill="#000">Vector</text>
<rect x="128.60" y="1074.30" width="21.70" height="15.00" fill="#0a0a0c"/>
<text transform="translate(156.33,1088.60) scale(1.0408,1)" font-size="15.32" font-family='"Liberation Sans", sans-serif' font-weight="bold" fill="#000">HAS3</text>
<text transform="translate(151.25,1337.22) scale(1.0113,1)" font-size="18.08" font-family='"Liberation Sans", sans-serif' font-weight="bold" fill="#000">OC-2</text>
<text transform="translate(279.24,1337.20) scale(1.0285,1)" font-size="18.04" font-family='"Liberation Sans", sans-serif' font-weight="bold" fill="#000">OC-3</text>
<g transform="translate(61.80,1246.02) rotate(-90) scale(1.0072,1)"><text font-size="17.53" font-family='"Liberation Sans", sans-serif' font-weight="bold" fill="#000" style="stroke-width:0.45px">Cell migration ( 0HPF)</text><path d="M131.846,0.000 L131.846,-9.842 L128.508,-8.002 L128.508,-9.970 L131.974,-12.058 L134.285,-12.058 L134.285,0.000 Z" fill="#000" stroke="#000" stroke-width="0.45" stroke-linejoin="round"/></g>
<line x1="446.80" y1="1045.59" x2="446.80" y2="1310.90" stroke="#000" stroke-width="2.2" stroke-linecap="butt"/>
<line x1="444.00" y1="1046.69" x2="446.80" y2="1046.69" stroke="#000" stroke-width="2.2" stroke-linecap="butt"/>
<g transform="translate(409.95,1052.20) scale(0.9850,1)"><text font-size="16.00" font-family='"Liberation Sans", sans-serif' font-weight="bold" fill="#000" style="stroke-width:0.15px"> 50</text><path d="M3.906,0.000 L3.906,-8.984 L0.859,-7.305 L0.859,-9.102 L4.023,-11.008 L6.133,-11.008 L6.133,0.000 Z" fill="#000" stroke="#000" stroke-width="0.15" stroke-linejoin="round"/></g>
<line x1="444.00" y1="1134.76" x2="446.80" y2="1134.76" stroke="#000" stroke-width="2.2" stroke-linecap="butt"/>
<g transform="translate(410.65,1140.27) scale(0.9850,1)"><text font-size="16.00" font-family='"Liberation Sans", sans-serif' font-weight="bold" fill="#000" style="stroke-width:0.15px"> 00</text><path d="M3.906,0.000 L3.906,-8.984 L0.859,-7.305 L0.859,-9.102 L4.023,-11.008 L6.133,-11.008 L6.133,0.000 Z" fill="#000" stroke="#000" stroke-width="0.15" stroke-linejoin="round"/></g>
<line x1="444.00" y1="1222.83" x2="446.80" y2="1222.83" stroke="#000" stroke-width="2.2" stroke-linecap="butt"/>
<text transform="translate(419.42,1228.34) scale(0.9850,1)" font-size="16.00" font-family='"Liberation Sans", sans-serif' font-weight="bold" fill="#000" style="stroke-width:0.15px">50</text>
<line x1="444.00" y1="1310.90" x2="446.80" y2="1310.90" stroke="#000" stroke-width="2.2" stroke-linecap="butt"/>
<text transform="translate(428.18,1316.41) scale(0.9850,1)" font-size="16.00" font-family='"Liberation Sans", sans-serif' font-weight="bold" fill="#000" style="stroke-width:0.15px">0</text>
<line x1="444.00" y1="1311.00" x2="699.50" y2="1311.00" stroke="#000" stroke-width="2.7" stroke-linecap="butt"/>
<rect x="471.40" y="1157.60" width="30.40" height="153.40" fill="#fff" stroke="#000" stroke-width="2.2"/>
<line x1="486.60" y1="1124.90" x2="486.60" y2="1157.50" stroke="#000" stroke-width="2.0" stroke-linecap="butt"/>
<line x1="482.30" y1="1124.90" x2="490.90" y2="1124.90" stroke="#000" stroke-width="3.0" stroke-linecap="round"/>
<path d="M518.00,1311.00 V1090.90 Q518.00,1089.70 519.20,1089.70 H549.70 Q550.90,1089.70 550.90,1090.90 V1311.00 Z" fill="#0a0a0c"/>
<line x1="534.20" y1="1067.00" x2="534.20" y2="1090.50" stroke="#000" stroke-width="2.0" stroke-linecap="butt"/>
<line x1="529.95" y1="1067.00" x2="538.45" y2="1067.00" stroke="#000" stroke-width="3.0" stroke-linecap="round"/>
<rect x="598.80" y="1238.20" width="29.80" height="72.80" fill="#fff" stroke="#000" stroke-width="2.2"/>
<line x1="613.90" y1="1225.90" x2="613.90" y2="1238.00" stroke="#000" stroke-width="2.0" stroke-linecap="butt"/>
<line x1="609.85" y1="1225.90" x2="617.95" y2="1225.90" stroke="#000" stroke-width="3.0" stroke-linecap="round"/>
<path d="M644.80,1311.00 V1202.30 Q644.80,1201.10 646.00,1201.10 H676.50 Q677.70,1201.10 677.70,1202.30 V1311.00 Z" fill="#0a0a0c"/>
<line x1="661.40" y1="1190.40" x2="661.40" y2="1202.00" stroke="#000" stroke-width="2.0" stroke-linecap="butt"/>
<line x1="657.35" y1="1190.40" x2="665.45" y2="1190.40" stroke="#000" stroke-width="3.0" stroke-linecap="round"/>
<text transform="translate(505.33,1047.90) scale(1.0219,1)" font-size="23.11" font-family='"Liberation Sans", sans-serif' font-weight="bold" fill="#000">*</text>
<line x1="473.40" y1="1051.90" x2="538.00" y2="1051.90" stroke="#000" stroke-width="2.2" stroke-linecap="butt"/>
<text transform="translate(632.23,1174.54) scale(1.0787,1)" font-size="20.70" font-family='"Liberation Sans", sans-serif' font-weight="bold" fill="#000">*</text>
<line x1="603.10" y1="1178.80" x2="667.80" y2="1178.80" stroke="#000" stroke-width="2.2" stroke-linecap="butt"/>
<rect x="598.40" y="1045.30" width="19.20" height="12.60" fill="#fff" stroke="#000" stroke-width="2"/>
<text transform="translate(625.89,1055.40) scale(1.0686,1)" font-size="14.54" font-family='"Liberation Sans", sans-serif' font-weight="bold" fill="#000">Vector</text>
<rect x="597.90" y="1071.10" width="21.10" height="14.90" fill="#0a0a0c"/>
<text transform="translate(625.83,1082.90) scale(1.0336,1)" font-size="15.47" font-family='"Liberation Sans", sans-serif' font-weight="bold" fill="#000">HAS3</text>
<text transform="translate(478.54,1333.22) scale(1.0028,1)" font-size="18.36" font-family='"Liberation Sans", sans-serif' font-weight="bold" fill="#000">OC-2</text>
<text transform="translate(620.35,1333.60) scale(1.0229,1)" font-size="17.76" font-family='"Liberation Sans", sans-serif' font-weight="bold" fill="#000">OC-3</text>
<text transform="translate(401.10,1249.40) rotate(-90) scale(0.9280,1)" font-size="19.48" font-family='"Liberation Sans", sans-serif' font-weight="bold" fill="#000">Total invasion cells</text>
</svg>
</body></html>
